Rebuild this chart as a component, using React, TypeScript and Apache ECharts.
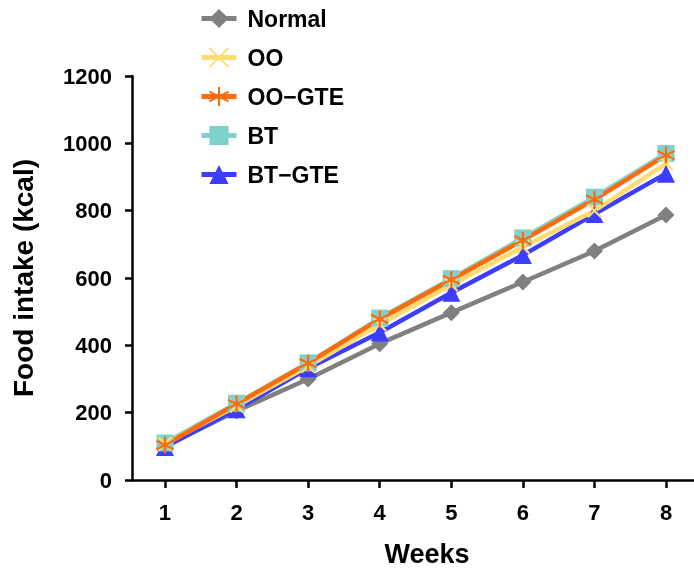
import React, { useEffect, useRef } from "react";
import * as echarts from "echarts";

const weeks = [1, 2, 3, 4, 5, 6, 7, 8];
const yTicks = [0, 200, 400, 600, 800, 1000, 1200];
const normal = [100, 205, 300, 405, 497, 588, 680, 787];
const oo = [108, 220, 338, 462, 580, 692, 800, 940];
const ooGte = [104, 226, 347, 478, 595, 712, 833, 965];
const bt = [110, 228, 348, 481, 598, 719, 840, 970];
const btGte = [98, 210, 332, 438, 556, 668, 790, 910];

const legendOrder = ["Normal", "OO", "OO\u2212GTE", "BT", "BT\u2212GTE"];

const FONT = "'Liberation Sans', Arial, sans-serif";

export default function App() {
  const ref = useRef<HTMLDivElement>(null);
  useEffect(() => {
    if (!ref.current) return;
    const chart = echarts.init(ref.current, undefined, { renderer: "svg" });
    const pts = (arr: number[]) => weeks.map((w, i) => [w, arr[i]]);
    const mk = (name: string, data: number[], color: string, symbol: string, size: number, stroke = false) => ({
      name,
      type: "line",
      data: pts(data),
      symbol,
      symbolSize: size,
      lineStyle: { color, width: 4.5 },
      itemStyle: stroke
        ? { color, borderColor: color, borderWidth: 2.2 }
        : { color, borderWidth: 0 },
    });
    chart.setOption({
      animation: false,
      textStyle: { fontFamily: FONT },
      grid: { left: 132, right: 0, top: 76, bottom: 92, containLabel: false },
      legend: {
        orient: "vertical",
        left: 194,
        top: 2,
        itemWidth: 35,
        itemHeight: 24,
        itemGap: 16,
        data: legendOrder,
        lineStyle: { width: 5 },
        textStyle: { fontFamily: FONT, fontWeight: "bold", fontSize: 23, color: "#000", padding: [0, 0, 0, 6] },
      },
      xAxis: {
        type: "value",
        min: 0.539,
        max: 8.391,
        name: "Weeks",
        nameLocation: "middle",
        nameGap: 60,
        nameTextStyle: { fontFamily: FONT, fontWeight: "bold", fontSize: 27, color: "#000", padding: [0, 0, 0, 28] },
        axisLine: { show: true, lineStyle: { color: "#000", width: 2.5 } },
        axisTick: { show: true, customValues: weeks, length: 8, lineStyle: { color: "#000", width: 2.5 } },
        axisLabel: { customValues: weeks, margin: 21, fontFamily: FONT, fontWeight: "bold", fontSize: 22, color: "#000" },
        splitLine: { show: false },
      },
      yAxis: {
        type: "value",
        min: 0,
        max: 1200,
        interval: 200,
        name: "Food intake (kcal)",
        nameLocation: "middle",
        nameGap: 95,
        nameTextStyle: { fontFamily: FONT, fontWeight: "bold", fontSize: 28, color: "#000" },
        axisLine: { show: true, lineStyle: { color: "#000", width: 2.5 } },
        axisTick: { show: true, length: 7, lineStyle: { color: "#000", width: 2.5 } },
        axisLabel: {
          margin: 20,
          fontFamily: FONT,
          fontWeight: "bold",
          fontSize: 22,
          color: "#000",
          customValues: yTicks,
          formatter: (v: number) => String(v),
        },
        splitLine: { show: false },
      },
      series: [
        mk("Normal", normal, "#808080", "diamond", 17),
        mk("BT\u2212GTE", btGte, "#3d3dff", "triangle", 18),
        mk("BT", bt, "#80d0cc", "rect", 17),
        mk("OO", oo, "#ffdb70", "path://M0,0L10,10M10,0L0,10", 13, true),
        mk("OO\u2212GTE", ooGte, "#ff6a0a", "path://M5,0L5,10M0.7,2.5L9.3,7.5M0.7,7.5L9.3,2.5", 17, true),
      ],
    });
    return () => chart.dispose();
  }, []);
  return <div ref={ref} style={{ position: "fixed", left: 0, top: 0, width: 694, height: 572 }} />;
}
